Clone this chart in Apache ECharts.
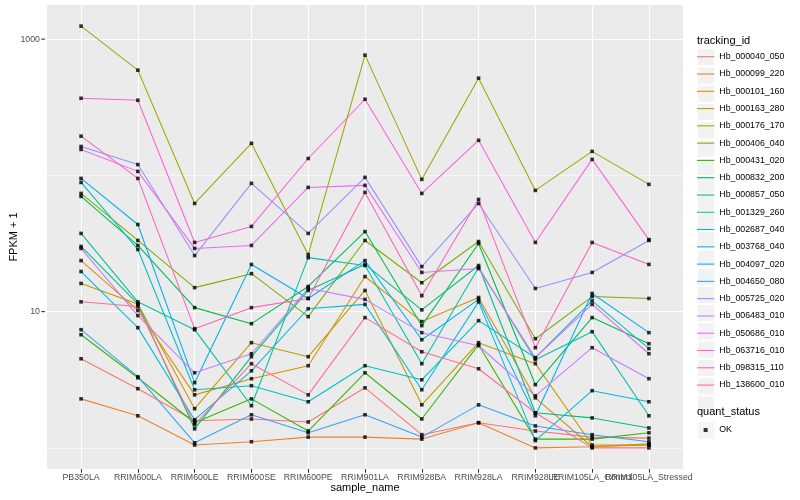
<!DOCTYPE html>
<html><head><meta charset="utf-8">
<script src="https://cdn.jsdelivr.net/npm/echarts@6/dist/echarts.min.js"></script>
<style>html,body{margin:0;padding:0;background:#fff}#c{width:800px;height:500px}</style>
</head><body><div id="c"></div>
<script>
// ---- data (FPKM + 1) ----
const categories = ['PB350LA','RRIM600LA','RRIM600LE','RRIM600SE','RRIM600PE','RRIM901LA','RRIM928BA','RRIM928LA','RRIM928LE','RRIM105LA_Control','RRIM105LA_Stressed'];
const trackingIds = ['Hb_000040_050','Hb_000099_220','Hb_000101_160','Hb_000163_280','Hb_000176_170','Hb_000406_040','Hb_000431_020','Hb_000832_200','Hb_000857_050','Hb_001329_260','Hb_002687_040','Hb_003768_040','Hb_004097_020','Hb_004650_080','Hb_005725_020','Hb_006483_010','Hb_050686_010','Hb_063716_010','Hb_098315_110','Hb_138600_010'];
const hb_000040_050 = [4.51, 2.72, 1.58, 1.63, 1.55, 2.76, 1.25, 1.53, 1.33, 1.20, 1.18];
const hb_000099_220 = [2.29, 1.72, 1.05, 1.11, 1.20, 1.20, 1.16, 1.53, 1.00, 1.02, 1.05];
const hb_000101_160 = [23.7, 10.2, 2.45, 3.22, 4.01, 18.1, 8.45, 12.7, 2.33, 1.02, 1.07];
const hb_000163_280 = [16.1, 11.4, 1.94, 5.92, 4.67, 14.3, 2.07, 5.92, 4.15, 1.05, 1.05];
const hb_000176_170 = [1246, 592, 62.2, 172, 26.2, 763, 93.5, 517, 77.6, 150, 85.9];
const hb_000406_040 = [73.7, 33.3, 15.0, 19.0, 9.19, 33.3, 16.3, 32.7, 6.33, 12.9, 12.5];
const hb_000431_020 = [6.77, 3.27, 1.53, 2.29, 1.33, 3.56, 1.63, 5.72, 1.16, 1.16, 1.29];
const hb_000832_200 = [70.1, 30.6, 10.7, 8.16, 15.3, 38.7, 7.89, 31.6, 2.91, 9.04, 5.82];
const hb_000857_050 = [30.1, 11.4, 1.38, 4.67, 14.3, 22.2, 10.3, 21.8, 1.81, 1.66, 1.40];
const hb_001329_260 = [37.5, 11.8, 7.37, 2.04, 24.9, 21.8, 4.15, 21.1, 4.44, 7.13, 1.72];
const hb_002687_040 = [88.8, 28.6, 2.67, 2.86, 2.18, 4.01, 3.16, 8.59, 4.59, 12.0, 5.35];
const hb_003768_040 = [19.7, 7.63, 1.61, 3.68, 10.5, 11.3, 2.67, 11.8, 1.13, 2.63, 2.18];
const hb_004097_020 = [95.0, 43.6, 3.01, 22.2, 12.5, 23.7, 6.22, 12.3, 1.72, 13.6, 7.01];
const hb_004650_080 = [7.37, 3.33, 1.09, 1.75, 1.29, 1.75, 1.20, 2.07, 1.45, 1.25, 1.11];
const hb_005725_020 = [163, 120, 25.8, 87.4, 37.5, 96.7, 21.4, 62.2, 14.8, 19.4, 33.3];
const hb_006483_010 = [29.1, 9.35, 3.56, 4.91, 14.8, 12.3, 7.01, 5.62, 2.41, 5.44, 3.22];
const hb_050686_010 = [155, 107, 29.1, 30.6, 81.6, 84.5, 19.4, 20.7, 4.59, 11.3, 4.91];
const hb_063716_010 = [368, 356, 32.2, 42.2, 133, 362, 73.7, 181, 32.2, 131, 33.8];
const hb_098315_110 = [194, 95.0, 7.50, 10.7, 12.5, 75.0, 13.1, 66.6, 5.44, 32.2, 22.2];
const hb_138600_010 = [11.8, 10.9, 1.48, 4.15, 2.45, 9.04, 5.08, 3.81, 1.81, 1.00, 1.00];
const yTickValues = [10, 1000];
const yTickLabels = ['10', '1000'];
const quantStatus = 'OK';

const seriesValues = [hb_000040_050, hb_000099_220, hb_000101_160, hb_000163_280, hb_000176_170, hb_000406_040, hb_000431_020, hb_000832_200, hb_000857_050, hb_001329_260, hb_002687_040, hb_003768_040, hb_004097_020, hb_004650_080, hb_005725_020, hb_006483_010, hb_050686_010, hb_063716_010, hb_098315_110, hb_138600_010];

// ---- styles ----
const palette = ['#F8766D','#EA8331','#D89000','#C09B00','#A3A500','#7CAE00','#39B600','#00BB4E','#00BF7D','#00C1A3','#00BFC4','#00BAE0','#00B0F6','#35A2FF','#9590FF','#C77CFF','#E76BF3','#FA62DB','#FF62BC','#FF6C91'];
const FONT = '"Liberation Sans", Arial, Helvetica, sans-serif';
const GRID = {left: 45, right: 117, top: 5, bottom: 31};
const KEY = 17.28;

const xPositions = categories.map((c, i) => i + 1);

const series = [];
// major grid lines (drawn beneath the data)
series.push({
  type: 'line', data: [], silent: true, z: 1,
  markLine: {
    silent: true, z: 1, symbol: ['none', 'none'], label: {show: false},
    lineStyle: {color: '#FFFFFF', width: 1.1, type: 'solid'},
    emphasis: {disabled: true},
    data: yTickValues.map(v => ({yAxis: v}))
  }
});
trackingIds.forEach((name, i) => {
  series.push({
    name: name, type: 'line', z: 2, silent: true,
    color: palette[i],
    symbol: 'none',
    lineStyle: {color: palette[i], width: 1.07},
    emphasis: {disabled: true},
    data: seriesValues[i].map((v, j) => [xPositions[j], v])
  });
});
trackingIds.forEach((name, i) => {
  series.push({
    name: quantStatus, type: 'scatter', z: 3, silent: true,
    color: '#000000',
    symbol: 'rect', symbolSize: 3.6,
    itemStyle: {color: '#000000'},
    emphasis: {disabled: true},
    data: seriesValues[i].map((v, j) => [xPositions[j], v])
  });
});

const linePath = 'path://M0,0 M17.28,17.28 M0,8.1 L17.28,8.1 L17.28,9.18 L0,9.18 Z';
const squarePath = 'path://M0,0 M17.28,17.28 M6.64,6.64 L10.64,6.64 L10.64,10.64 L6.64,10.64 Z';
const legendBase = {
  orient: 'vertical', left: 697, itemWidth: KEY, itemHeight: KEY, itemGap: 0, padding: 0,
  selectedMode: false
};
const legends = [
  Object.assign({}, legendBase, {top: 48.1, z: 3, data: trackingIds, icon: 'rect',
    itemStyle: {color: '#F2F2F2', borderColor: '#FFFFFF', borderWidth: 1},
    textStyle: {color: 'rgba(0,0,0,0)', fontSize: 8.8, fontFamily: FONT}}),
  Object.assign({}, legendBase, {top: 48.1, z: 4, data: trackingIds, icon: linePath,
    itemStyle: {borderWidth: 0},
    textStyle: {color: '#000000', fontSize: 8.8, fontFamily: FONT}}),
  Object.assign({}, legendBase, {top: 421.4, z: 3, data: [quantStatus], icon: 'rect',
    itemStyle: {color: '#F2F2F2', borderColor: '#FFFFFF', borderWidth: 1},
    textStyle: {color: 'rgba(0,0,0,0)', fontSize: 8.8, fontFamily: FONT}}),
  Object.assign({}, legendBase, {top: 421.4, z: 4, data: [quantStatus], icon: squarePath,
    itemStyle: {color: '#000000', borderWidth: 0},
    textStyle: {color: '#000000', fontSize: 8.8, fontFamily: FONT}})
];

const option = {
  animation: false,
  backgroundColor: '#FFFFFF',
  title: [
    {text: 'tracking_id', left: 697, top: 35, padding: 0,
     textStyle: {fontSize: 11, fontWeight: 'normal', color: '#000000', fontFamily: FONT}},
    {text: 'quant_status', left: 697, top: 406, padding: 0,
     textStyle: {fontSize: 11, fontWeight: 'normal', color: '#000000', fontFamily: FONT}}
  ],
  legend: legends,
  grid: Object.assign({show: true, backgroundColor: '#EBEBEB', borderWidth: 0}, GRID),
  xAxis: {
    type: 'value', min: 0.4, max: 11.6,
    name: 'sample_name', nameLocation: 'middle', nameGap: 13,
    nameTextStyle: {fontSize: 11, color: '#000000', fontFamily: FONT},
    axisLine: {show: false},
    axisTick: {show: true, customValues: xPositions, length: 3.7, lineStyle: {color: '#333333', width: 1.07}},
    axisLabel: {show: false, customValues: xPositions},
    splitLine: {show: true, lineStyle: {color: '#FFFFFF', width: 1.1}}
  },
  yAxis: {
    type: 'log', logBase: 10, min: 0.7, max: 1780,
    name: 'FPKM + 1', nameLocation: 'middle', nameGap: 28, nameRotate: 90,
    nameTextStyle: {fontSize: 11, color: '#000000', fontFamily: FONT},
    axisLine: {show: false},
    axisTick: {show: false},
    axisLabel: {show: false},
    splitLine: {show: true, showMinLine: false, showMaxLine: false, lineStyle: {color: '#FFFFFF', width: 0.55}}
  },
  series: series
};

const chart = echarts.init(document.getElementById('c'), null, {renderer: 'canvas'});
chart.setOption(option);
// tick labels (and y tick marks) placed through the library's own scales; all labels kept, even where they overlap
const axisGraphics = [];
const panelBottom = 500 - GRID.bottom;
yTickValues.forEach((v, i) => {
  const py = chart.convertToPixel({yAxisIndex: 0}, v);
  axisGraphics.push({type: 'line', silent: true, z: 5,
    shape: {x1: GRID.left - 3.7, y1: py, x2: GRID.left, y2: py},
    style: {stroke: '#333333', lineWidth: 1.07}});
  axisGraphics.push({type: 'text', silent: true, z: 5,
    x: GRID.left - 5, y: py,
    style: {text: yTickLabels[i], fill: '#4D4D4D', fontSize: 8.8, fontFamily: FONT,
      align: 'right', verticalAlign: 'middle', textAlign: 'right', textVerticalAlign: 'middle'}});
});
categories.forEach((c, i) => {
  const px = chart.convertToPixel({xAxisIndex: 0}, xPositions[i]);
  axisGraphics.push({type: 'text', silent: true, z: 5,
    x: px, y: panelBottom + 4.5,
    style: {text: c, fill: '#4D4D4D', fontSize: 8.8, fontFamily: FONT,
      align: 'center', verticalAlign: 'top', textAlign: 'center', textVerticalAlign: 'top'}});
});
chart.setOption({graphic: axisGraphics});
</script></body></html>
